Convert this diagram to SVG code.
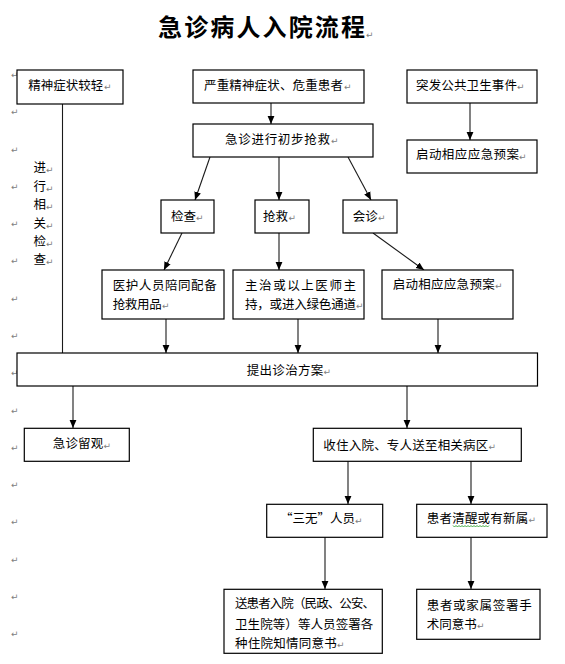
<svg xmlns="http://www.w3.org/2000/svg" width="565" height="664" viewBox="0 0 565 664">
<style>
  .box { fill: #ffffff; stroke: #000000; stroke-width: 1.2; }
  .t { font-family: "Noto Sans CJK SC", "Noto Sans", sans-serif; font-size: 12.5px; fill: #000000; }
  .title { font-family: "Noto Sans CJK SC", "Noto Sans", sans-serif; font-size: 24px; font-weight: bold; fill: #000000; }
  .pm { font-family: "DejaVu Sans", sans-serif; font-size: 9px; fill: #808080; }
  .c { stroke: #1a1a1a; stroke-width: 1.1; fill: none; }
  .ca { stroke: #1a1a1a; stroke-width: 1.1; fill: none; marker-end: url(#ah); }
  .sq { stroke: #2a9d2a; stroke-width: 0.9; fill: none; }
</style>
<defs>
  <marker id="ah" markerUnits="userSpaceOnUse" markerWidth="8" markerHeight="8" viewBox="0 0 8 8" refX="8" refY="4" orient="auto">
    <path d="M0,0.6 L8,4 L0,7.4 Z" fill="#000000"/>
  </marker>
</defs>
<rect width="565" height="664" fill="#ffffff"/>

<g id="title">
  <text class="title" x="158" y="36" textLength="207" lengthAdjust="spacing">急诊病人入院流程</text>
  <text class="pm" x="366" y="38">↵</text>
</g>

<g id="margin-marks">
  <text class="pm" x="11" y="78">↵</text>
  <text class="pm" x="11" y="115">↵</text>
  <text class="pm" x="11" y="153">↵</text>
  <text class="pm" x="11" y="190">↵</text>
  <text class="pm" x="11" y="227">↵</text>
  <text class="pm" x="11" y="264">↵</text>
  <text class="pm" x="11" y="302">↵</text>
  <text class="pm" x="11" y="339">↵</text>
  <text class="pm" x="11" y="376">↵</text>
  <text class="pm" x="11" y="414">↵</text>
  <text class="pm" x="11" y="451">↵</text>
  <text class="pm" x="11" y="488">↵</text>
  <text class="pm" x="11" y="525">↵</text>
  <text class="pm" x="11" y="563">↵</text>
  <text class="pm" x="11" y="600">↵</text>
  <text class="pm" x="11" y="637">↵</text>
</g>

<g id="side-label">
  <text class="t" x="33.5" y="171.5">进</text><text class="pm" x="46" y="173">↵</text>
  <text class="t" x="33.5" y="190.5">行</text><text class="pm" x="46" y="192">↵</text>
  <text class="t" x="33.5" y="208.5">相</text><text class="pm" x="46" y="210">↵</text>
  <text class="t" x="33.5" y="227.5">关</text><text class="pm" x="46" y="229">↵</text>
  <text class="t" x="33.5" y="245.5">检</text><text class="pm" x="46" y="247">↵</text>
  <text class="t" x="33.5" y="263.5">查</text><text class="pm" x="46" y="265">↵</text>
</g>

<g id="connectors">
  <line class="ca" x1="271" y1="103" x2="271" y2="124"/>
  <line class="ca" x1="470" y1="103" x2="470" y2="140"/>
  <line class="ca" x1="210" y1="157" x2="195" y2="200"/>
  <line class="ca" x1="279" y1="157" x2="279" y2="200"/>
  <line class="ca" x1="348" y1="157" x2="371" y2="200"/>
  <line class="ca" x1="182" y1="233" x2="164" y2="270"/>
  <line class="ca" x1="279" y1="233" x2="279" y2="270"/>
  <line class="ca" x1="373" y1="233" x2="424" y2="270"/>
  <line class="ca" x1="166" y1="319" x2="166" y2="353"/>
  <line class="ca" x1="298" y1="319" x2="298" y2="353"/>
  <line class="ca" x1="438" y1="319" x2="438" y2="353"/>
  <line class="c" x1="62.5" y1="104" x2="62.5" y2="353"/>
  <line class="ca" x1="73" y1="386" x2="73" y2="428"/>
  <line class="ca" x1="407" y1="386" x2="407" y2="428"/>
  <line class="ca" x1="348" y1="461" x2="348" y2="504"/>
  <line class="ca" x1="471" y1="461" x2="471" y2="504"/>
  <line class="ca" x1="325" y1="537" x2="325" y2="589"/>
  <line class="ca" x1="471" y1="537" x2="471" y2="589"/>
</g>

<g id="n-mild">
  <rect class="box" x="17" y="70" width="106" height="34"/>
  <text class="t" x="28.3" y="89.5">精神症状较轻</text><text class="pm" x="104" y="90">↵</text>
</g>

<g id="n-severe">
  <rect class="box" x="193" y="70" width="171" height="33"/>
  <text class="t" x="204" y="89.5" textLength="139" lengthAdjust="spacing">严重精神症状、危重患者</text><text class="pm" x="344" y="90">↵</text>
</g>

<g id="n-public">
  <rect class="box" x="407" y="70" width="130" height="33"/>
  <text class="t" x="416" y="89.5" textLength="101" lengthAdjust="spacing">突发公共卫生事件</text><text class="pm" x="517" y="90">↵</text>
</g>

<g id="n-first-aid">
  <rect class="box" x="193" y="124" width="180" height="33"/>
  <text class="t" x="225" y="143.5" textLength="105" lengthAdjust="spacing">急诊进行初步抢救</text><text class="pm" x="331" y="144">↵</text>
</g>

<g id="n-plan1">
  <rect class="box" x="407" y="140" width="130" height="33"/>
  <text class="t" x="416" y="159" textLength="103" lengthAdjust="spacing">启动相应应急预案</text><text class="pm" x="519" y="159.5">↵</text>
</g>

<g id="n-check">
  <rect class="box" x="161" y="200" width="53" height="33"/>
  <text class="t" x="171" y="220.5">检查</text><text class="pm" x="196" y="221">↵</text>
</g>

<g id="n-rescue">
  <rect class="box" x="255" y="200" width="54" height="33"/>
  <text class="t" x="263" y="220.5">抢救</text><text class="pm" x="288.5" y="221">↵</text>
</g>

<g id="n-consult">
  <rect class="box" x="343" y="200" width="54" height="33"/>
  <text class="t" x="352.7" y="220.5">会诊</text><text class="pm" x="378" y="221">↵</text>
</g>

<g id="n-escort">
  <rect class="box" x="102" y="270" width="122" height="49"/>
  <text class="t" x="112.7" y="290.2" textLength="104" lengthAdjust="spacing">医护人员陪同配备</text>
  <text class="t" x="112.7" y="308.5" textLength="49" lengthAdjust="spacing">抢救用品</text><text class="pm" x="162" y="309">↵</text>
</g>

<g id="n-doctor">
  <rect class="box" x="233" y="270" width="131" height="49"/>
  <text class="t" x="245" y="290.2" textLength="111" lengthAdjust="spacing">主治或以上医师主</text>
  <text class="t" x="245" y="308.5" textLength="111" lengthAdjust="spacing">持，或进入绿色通道</text><text class="pm" x="356" y="309">↵</text>
</g>

<g id="n-plan2">
  <rect class="box" x="382" y="270" width="131" height="49"/>
  <text class="t" x="392.7" y="288.5" textLength="102" lengthAdjust="spacing">启动相应应急预案</text><text class="pm" x="495" y="289">↵</text>
</g>

<g id="n-propose">
  <rect class="box" x="17" y="353" width="520.5" height="33"/>
  <text class="t" x="246.7" y="374.5" textLength="76.6" lengthAdjust="spacing">提出诊治方案</text><text class="pm" x="323.5" y="375">↵</text>
</g>

<g id="n-observe">
  <rect class="box" x="24.3" y="428.3" width="105" height="33"/>
  <text class="t" x="52.7" y="448" textLength="50.6" lengthAdjust="spacing">急诊留观</text><text class="pm" x="103.5" y="448.5">↵</text>
</g>

<g id="n-admit">
  <rect class="box" x="313.3" y="428.3" width="208" height="33"/>
  <text class="t" x="323.3" y="449.5" textLength="165" lengthAdjust="spacing">收住入院、专人送至相关病区</text><text class="pm" x="488.5" y="450">↵</text>
</g>

<g id="n-sanwu">
  <rect class="box" x="266.7" y="504.3" width="116" height="33"/>
  <text class="t" x="280" y="523" textLength="75" lengthAdjust="spacing">“三无”人员</text><text class="pm" x="355" y="523.5">↵</text>
</g>

<g id="n-conscious">
  <rect class="box" x="416.7" y="504.3" width="130.3" height="33"/>
  <text class="t" x="426.7" y="522.5" textLength="101.6" lengthAdjust="spacing">患者清醒或有新属</text><text class="pm" x="528.5" y="523">↵</text>
  <path class="sq" d="M453,525.5 l1.5,1.5 l1.5,-1.5 l1.5,1.5 l1.5,-1.5 l1.5,1.5 l1.5,-1.5 l1.5,1.5 l1.5,-1.5 l1.5,1.5 l1.5,-1.5 l1.5,1.5 l1.5,-1.5 l1.5,1.5 l1.5,-1.5 l1.5,1.5 l1.5,-1.5 l1.5,1.5 l1.5,-1.5 l1.5,1.5 l1.5,-1.5 l1.5,1.5 l1.5,-1.5 l1.5,1.5 l1.5,-1.5"/>
</g>

<g id="n-sign-sanwu">
  <rect class="box" x="224" y="589.3" width="158.3" height="64"/>
  <text class="t" x="235" y="607.8" textLength="140" lengthAdjust="spacing">送患者入院（民政、公安、</text>
  <text class="t" x="235" y="628.8" textLength="138.3" lengthAdjust="spacing">卫生院等）等人员签署各</text>
  <text class="t" x="235" y="647.8" textLength="101.7" lengthAdjust="spacing">种住院知情同意书</text><text class="pm" x="337" y="648.3">↵</text>
</g>

<g id="n-sign-family">
  <rect class="box" x="416.7" y="589.3" width="123.3" height="50"/>
  <text class="t" x="426.7" y="609.5" textLength="105" lengthAdjust="spacing">患者或家属签署手</text>
  <text class="t" x="426.7" y="628.8" textLength="50" lengthAdjust="spacing">术同意书</text><text class="pm" x="477" y="629.3">↵</text>
</g>
</svg>
